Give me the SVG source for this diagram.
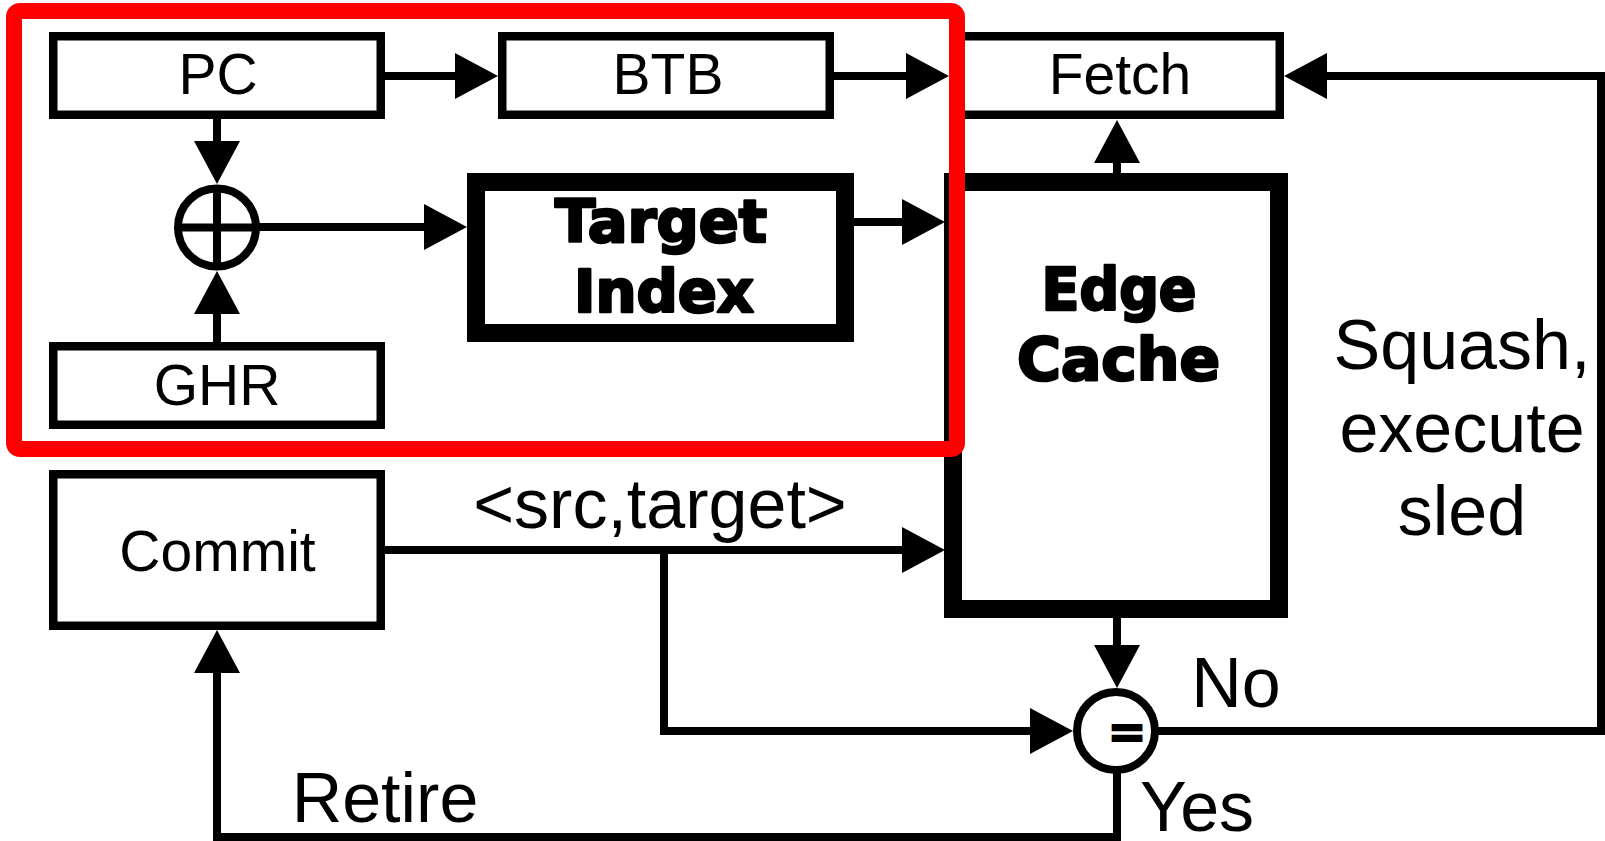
<svg xmlns="http://www.w3.org/2000/svg" width="1605" height="841" viewBox="0 0 1605 841">
  <style>
    .box { fill: #fff; stroke: #000; stroke-width: 8.5; }
    .thick { fill: #fff; stroke: #000; stroke-width: 18; }
    .ring { fill: #fff; stroke: #000; stroke-width: 8; }
    .conn { fill: none; stroke: #000; stroke-width: 8; stroke-linejoin: miter; }
    .arrow { marker-end: url(#ah); }
    .lbl { font-family: "Liberation Sans", Arial, sans-serif; font-size: 57px; fill: #000; text-anchor: middle; }
    .big { font-size: 70px; }
    .heavy { font-family: "DejaVu Sans", "Liberation Sans", sans-serif; font-weight: bold; font-size: 58px; fill: #000; stroke: #000; stroke-width: 2.6; stroke-linejoin: round; text-anchor: middle; }
    .frame { fill: none; stroke: #ff0000; stroke-width: 16; }
  </style>
  <defs>
    <marker id="ah" markerUnits="userSpaceOnUse" markerWidth="44" markerHeight="46" refX="0" refY="23" orient="auto" overflow="visible">
      <path d="M0,0 L43,23 L0,46 z" fill="#000"/>
    </marker>
  </defs>

  <rect width="1605" height="841" fill="#fff"/>

  <!-- connectors: each path ends at the base of its arrowhead -->
  <g id="connectors">
    <path class="conn arrow" d="M385,76 H455"/>
    <path class="conn arrow" d="M834,76 H906"/>
    <path class="conn arrow" d="M217,119 V141"/>
    <path class="conn arrow" d="M217,342 V314"/>
    <path class="conn arrow" d="M256,227 H424"/>
    <path class="conn arrow" d="M854,222 H902"/>
    <path class="conn arrow" d="M1117,180 V163"/>
    <path class="conn arrow" d="M1150,731 H1601 V76 H1327"/>
    <path class="conn arrow" d="M385,550 H902"/>
    <path class="conn arrow" d="M664,550 V731 H1030"/>
    <path class="conn arrow" d="M1117,612 V645"/>
    <path class="conn arrow" d="M1117,770 V837 H217 V673"/>
    <text class="lbl big" x="660" y="528">&lt;src,target&gt;</text>
    <text class="lbl big" x="1236" y="707">No</text>
    <text class="lbl big" x="1197" y="831">Yes</text>
    <text class="lbl big" x="385" y="822">Retire</text>
    <text class="lbl big" x="1462" y="369">Squash,</text>
    <text class="lbl big" x="1462" y="452">execute</text>
    <text class="lbl big" x="1462" y="535">sled</text>
  </g>

  <g id="pc">
    <rect class="box" x="53.25" y="36.25" width="327.5" height="78.5"/>
    <text class="lbl" x="218" y="94">PC</text>
  </g>
  <g id="btb">
    <rect class="box" x="502.25" y="36.25" width="327.5" height="78.5"/>
    <text class="lbl" x="668" y="94">BTB</text>
  </g>
  <g id="fetch">
    <rect class="box" x="953.25" y="36.25" width="326.5" height="78.5"/>
    <text class="lbl" x="1120" y="94">Fetch</text>
  </g>
  <g id="ghr">
    <rect class="box" x="53.25" y="346.25" width="327.5" height="78.5"/>
    <text class="lbl" x="217" y="405">GHR</text>
  </g>
  <g id="commit">
    <rect class="box" x="53.25" y="474.25" width="327.5" height="151.5"/>
    <text class="lbl" x="217.5" y="571">Commit</text>
  </g>
  <g id="xor">
    <circle class="ring" cx="217" cy="227.5" r="39"/>
    <path d="M217,188 V267 M178,227.5 H256" stroke="#000" stroke-width="8" fill="none"/>
  </g>
  <g id="target-index">
    <rect class="thick" x="476" y="182" width="369" height="151"/>
    <text class="heavy" x="661" y="242" textLength="212" lengthAdjust="spacingAndGlyphs">Target</text>
    <text class="heavy" x="664" y="312" textLength="180" lengthAdjust="spacingAndGlyphs">Index</text>
  </g>
  <g id="edge-cache">
    <rect class="thick" x="953" y="182" width="326" height="427"/>
    <text class="heavy" x="1119" y="310" textLength="155" lengthAdjust="spacingAndGlyphs">Edge</text>
    <text class="heavy" x="1118.5" y="380" textLength="203" lengthAdjust="spacingAndGlyphs">Cache</text>
  </g>
  <g id="compare">
    <circle class="ring" cx="1116" cy="731" r="39"/>
    <text x="1127" y="748" font-family="DejaVu Sans, sans-serif" font-weight="bold" font-size="46" text-anchor="middle" stroke="#000" stroke-width="2">=</text>
  </g>

  <!-- highlight frame around the predictor block -->
  <g id="highlight">
    <rect class="frame" x="14" y="11" width="943" height="438" rx="6"/>
  </g>
</svg>
